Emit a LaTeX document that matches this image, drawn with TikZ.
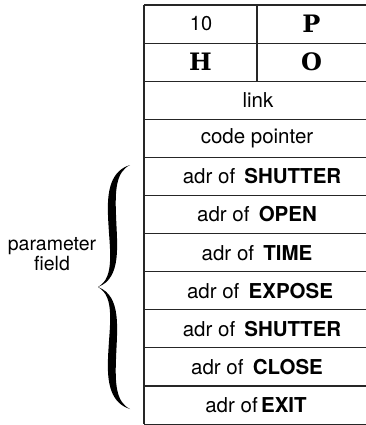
\documentclass[tikz,border=0pt]{standalone}
\usepackage{fontspec}
\setsansfont{TeX Gyre Heros}
\newfontfamily\heavy{DejaVu Serif}
\begin{document}
\begin{tikzpicture}[x=1pt,y=-1pt,
  rowtext/.style={font=\sffamily\fontsize{20.5}{24}\selectfont, inner sep=0pt, anchor=center},
  numtext/.style={font=\sffamily\fontsize{20}{22}\selectfont, inner sep=0pt, anchor=center},
  heavytext/.style={font=\heavy\bfseries\fontsize{24}{28}\selectfont, inner sep=0pt, anchor=center},
  labeltext/.style={font=\sffamily\fontsize{19.5}{17.5}\selectfont, inner sep=0pt, align=center},
  rule/.style={line width=1.1pt, black!85}]
\useasboundingbox (0,0) rectangle (366,425);
% row boundaries
\foreach \i in {0,...,11} {
  \coordinate (L\i) at (144,{5+38.1*\i});
  \coordinate (R\i) at (366,{5+38.1*\i});
}
\foreach \i in {0,...,11} { \draw[rule] (L\i) -- (R\i); }
\draw[rule] (L0) -- (L11);
\coordinate (D0) at (257,5);
\coordinate (D2) at (257,{5+38.1*2});
\draw[rule] (D0) -- (D2);
% texts
\node[numtext] (t10) at (201,{5+38.1*0.5}) {10};
\node[heavytext] (tP) at (311.5,{5+38.1*0.5}) {P};
\node[heavytext] (tH) at (200.5,{5+38.1*1.5}) {H};
\node[heavytext] (tO) at (311.5,{5+38.1*1.5}) {O};
\node[rowtext] (tlink) at (258,{5+38.1*2.5}) {link};
\node[rowtext] (tcode) at (257,{5+38.1*3.5}) {code pointer};
\node[rowtext] (r4) at (262,{5+38.1*4.5}) {adr of\hspace{0.45em}\textbf{SHUTTER}};
\node[rowtext] (r5) at (257,{5+38.1*5.5}) {adr of\hspace{0.45em}\textbf{OPEN}};
\node[rowtext] (r6) at (257,{5+38.1*6.5}) {adr of\hspace{0.45em}\textbf{TIME}};
\node[rowtext] (r7) at (260,{5+38.1*7.5}) {adr of\hspace{0.45em}\textbf{EXPOSE}};
\node[rowtext] (r8) at (262,{5+38.1*8.5}) {adr of\hspace{0.45em}\textbf{SHUTTER}};
\node[rowtext] (r9) at (257,{5+38.1*9.5}) {adr of\hspace{0.45em}\textbf{CLOSE}};
\node[rowtext] (r10) at (256,{5+38.1*10.5}) {adr of\,\textbf{EXIT}};
% brace
\fill[black] (130,165) .. controls (111,171) and (107,190) .. (108,215)
  .. controls (109,247) and (116,277) .. (98,287)
  .. controls (122,278) and (117,245) .. (116,215)
  .. controls (115,190) and (116,172) .. (130,165) -- cycle;
\fill[black] (130,409) .. controls (111,403) and (107,384) .. (108,359)
  .. controls (109,327) and (116,297) .. (98,287)
  .. controls (122,296) and (117,329) .. (116,359)
  .. controls (115,384) and (116,402) .. (130,409) -- cycle;
\node[labeltext] (param) at (52,254) {parameter\\field};
\end{tikzpicture}
\end{document}
